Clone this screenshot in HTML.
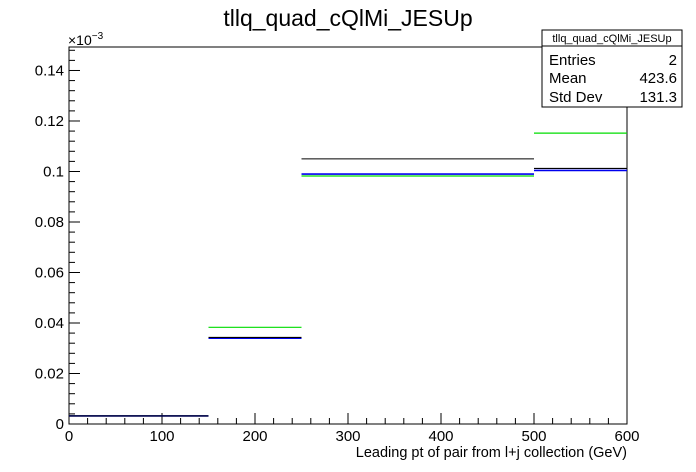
<!DOCTYPE html>
<html><head><meta charset="utf-8"><style>
body{margin:0;background:#fff;}
svg{display:block;font-family:"Liberation Sans",Arial,sans-serif;}
</style></head><body>
<svg id="c" width="696" height="472">
<rect width="696" height="472" fill="#fff"/>
<text x="348" y="26" font-size="23" text-anchor="middle">tllq_quad_cQlMi_JESUp</text>
<rect x="69" y="47" width="558" height="377" fill="none" stroke="#000" stroke-width="1"/>
<g id="ax"></g>
<g id="marks"></g>
<text x="68" y="45" font-size="14">×10<tspan dy="-6" font-size="10">−3</tspan></text>
<text x="627" y="457" font-size="14.5" text-anchor="end">Leading pt of pair from l+j collection (GeV)</text>
<g>
<rect x="542" y="30" width="140" height="77" fill="#fff" stroke="#000"/>
<line x1="542" y1="46" x2="682" y2="46" stroke="#000"/>
<text x="612" y="42" font-size="11" text-anchor="middle">tllq_quad_cQlMi_JESUp</text>
<text x="549" y="65" font-size="15">Entries</text><text x="677" y="65" font-size="15" text-anchor="end">2</text>
<text x="549" y="83" font-size="15">Mean</text><text x="677" y="83" font-size="15" text-anchor="end">423.6</text>
<text x="549" y="102" font-size="15">Std Dev</text><text x="677" y="102" font-size="15" text-anchor="end">131.3</text>
</g>
</svg>
<script>
const binEdges=[0,150,250,500,600];
const blackVals=[0.0032,0.0343,0.105,0.1012];
const greenVals=[0.0032,0.0383,0.0982,0.1152];
const blueVals=[0.0032,0.034,0.099,0.1004];
const xTicks=[0,100,200,300,400,500,600];
const yTicks=[0,0.02,0.04,0.06,0.08,0.1,0.12,0.14];
const yTickLabels=["0","0.02","0.04","0.06","0.08","0.1","0.12","0.14"];
const X0=69,X1=627,Y0=424,Y1=47,XMAX=600,YMAX=0.1493;
const sx=v=>X0+(X1-X0)*v/XMAX;
const sy=v=>Y0-(Y0-Y1)*v/YMAX;
const NS="http://www.w3.org/2000/svg";
function mk(t,a,p){const e=document.createElementNS(NS,t);for(const k in a)e.setAttribute(k,a[k]);p.appendChild(e);return e;}
const ax=document.getElementById('ax');
for(let v=0;v<=600;v+=20){const maj=v%100===0;
 const l=mk('line',{x1:sx(v),x2:sx(v),y1:Y0,y2:Y0-(maj?11:6),stroke:'#000'},ax);
 
 }
xTicks.forEach(v=>{const t=mk('text',{x:sx(v),y:Y0+17,'font-size':15,'text-anchor':'middle'},ax);t.textContent=v;
 
 });
for(let i=0;i*0.004<=YMAX;i++){const v=i*0.004;const maj=i%5===0;
 const l=mk('line',{x1:X0,x2:X0+(maj?11:6),y1:sy(v),y2:sy(v),stroke:'#000'},ax);
 
 }
yTicks.forEach((v,i)=>{const t=mk('text',{x:X0-5,y:sy(v)+5,'font-size':15,'text-anchor':'end'},ax);t.textContent=yTickLabels[i];
 
 });
const marks=document.getElementById('marks');
function series(vals,col,w,name){vals.forEach((v,i)=>{
 const l=mk('line',{x1:sx(binEdges[i]),x2:sx(binEdges[i+1]),y1:sy(v),y2:sy(v),stroke:col,'stroke-width':w},marks);
 
 });}
series(greenVals,'#00dd00',1.2,'green-series');
series(blueVals,'#0000ee',1.6,'blue-series');
series(blackVals,'#000',1.1,'black-series');
</script>
</body></html>
